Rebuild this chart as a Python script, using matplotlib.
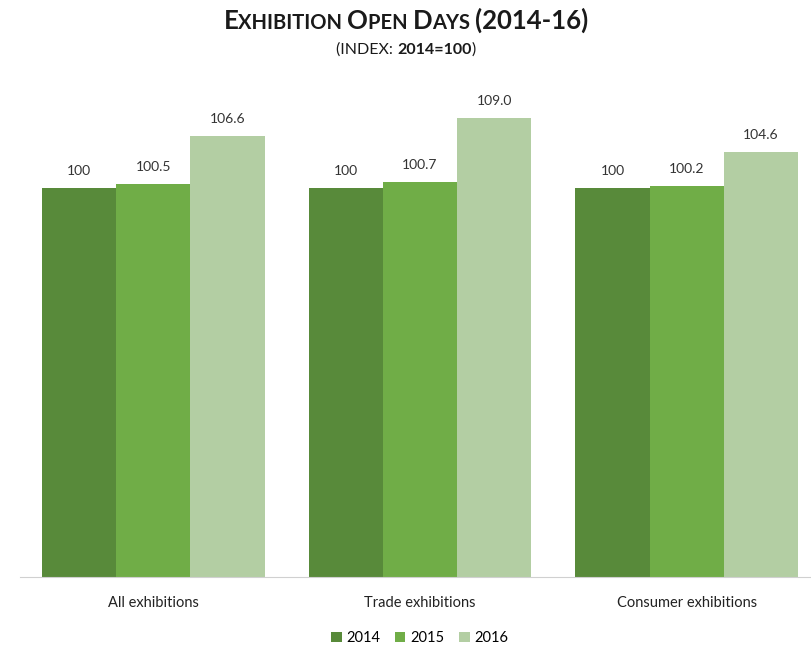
import matplotlib.pyplot as plt
import numpy as np

categories = ['All exhibitions', 'Trade exhibitions', 'Consumer exhibitions']
years = ['2014', '2015', '2016']
values_2014 = [100, 100, 100]
values_2015 = [100.5, 100.7, 100.2]
values_2016 = [106.6, 109.0, 104.6]
labels_2014 = ['100', '100', '100']
labels_2015 = ['100.5', '100.7', '100.2']
labels_2016 = ['106.6', '109.0', '104.6']

colors = ['#588a3a', '#70ad47', '#b3cea3']
font = ['Lato', 'DejaVu Sans']
plt.rcParams['font.family'] = font

fig = plt.figure(figsize=(8.12, 6.5), dpi=100)
ax = fig.add_axes([20 / 812, 1 - 577 / 650, 800 / 812, (577 - 32) / 650])

x = np.arange(len(categories))
w = 0.278
series = [(values_2014, labels_2014), (values_2015, labels_2015), (values_2016, labels_2016)]
for i, (vals, labs) in enumerate(series):
    pos = x + (i - 1) * w
    ax.bar(pos, np.array(vals) - 50, w, bottom=50, color=colors[i], label=years[i])
    for p, v, t in zip(pos, vals, labs):
        ax.text(p, v + 1.4, t, ha='center', va='bottom', fontsize=10, color='#333333')

ax.set_xlim(-0.5, 2.5)
ax.set_ylim(50, 120)
ax.set_yticks([])
ax.set_xticks(x)
ax.set_xticklabels(categories, fontsize=10.5, color='#222222')
ax.tick_params(axis='x', length=0, pad=14)
for s in ['top', 'right', 'left']:
    ax.spines[s].set_visible(False)
ax.spines['bottom'].set_color('#d0d0d0')

leg = ax.legend(loc='upper center', bbox_to_anchor=(0.5, -0.075), ncol=3, frameon=False,
                fontsize=10.5, handlelength=0.7, handleheight=0.7, handletextpad=0.35,
                columnspacing=1.0)

# small-caps title built piece by piece
fig.canvas.draw()
renderer = fig.canvas.get_renderer()


def small_caps(y, pieces, color='#1a1a1a'):
    texts = []
    for s, size, weight in pieces:
        t = fig.text(0, y, s, fontsize=size, fontweight=weight, color=color,
                     ha='left', va='baseline')
        texts.append(t)
    widths = [t.get_window_extent(renderer).width for t in texts]
    total = sum(widths)
    left = (812 - total) / 2
    for t, wd in zip(texts, widths):
        t.set_x(left / 812)
        left += wd


big, sml = 18.5, 14.5
small_caps(1 - 29 / 650, [
    ('E', big, 'bold'), ('XHIBITION ', sml, 'bold'),
    ('O', big, 'bold'), ('PEN ', sml, 'bold'),
    ('D', big, 'bold'), ('AYS ', sml, 'bold'),
    ('(2014-16)', big, 'bold'),
])
small_caps(1 - 54 / 650, [
    ('(INDEX: ', 11.5, 'normal'), ('2014=100', 11.5, 'bold'), (')', 11.5, 'normal'),
])

fig.savefig('out.png', dpi=100)
